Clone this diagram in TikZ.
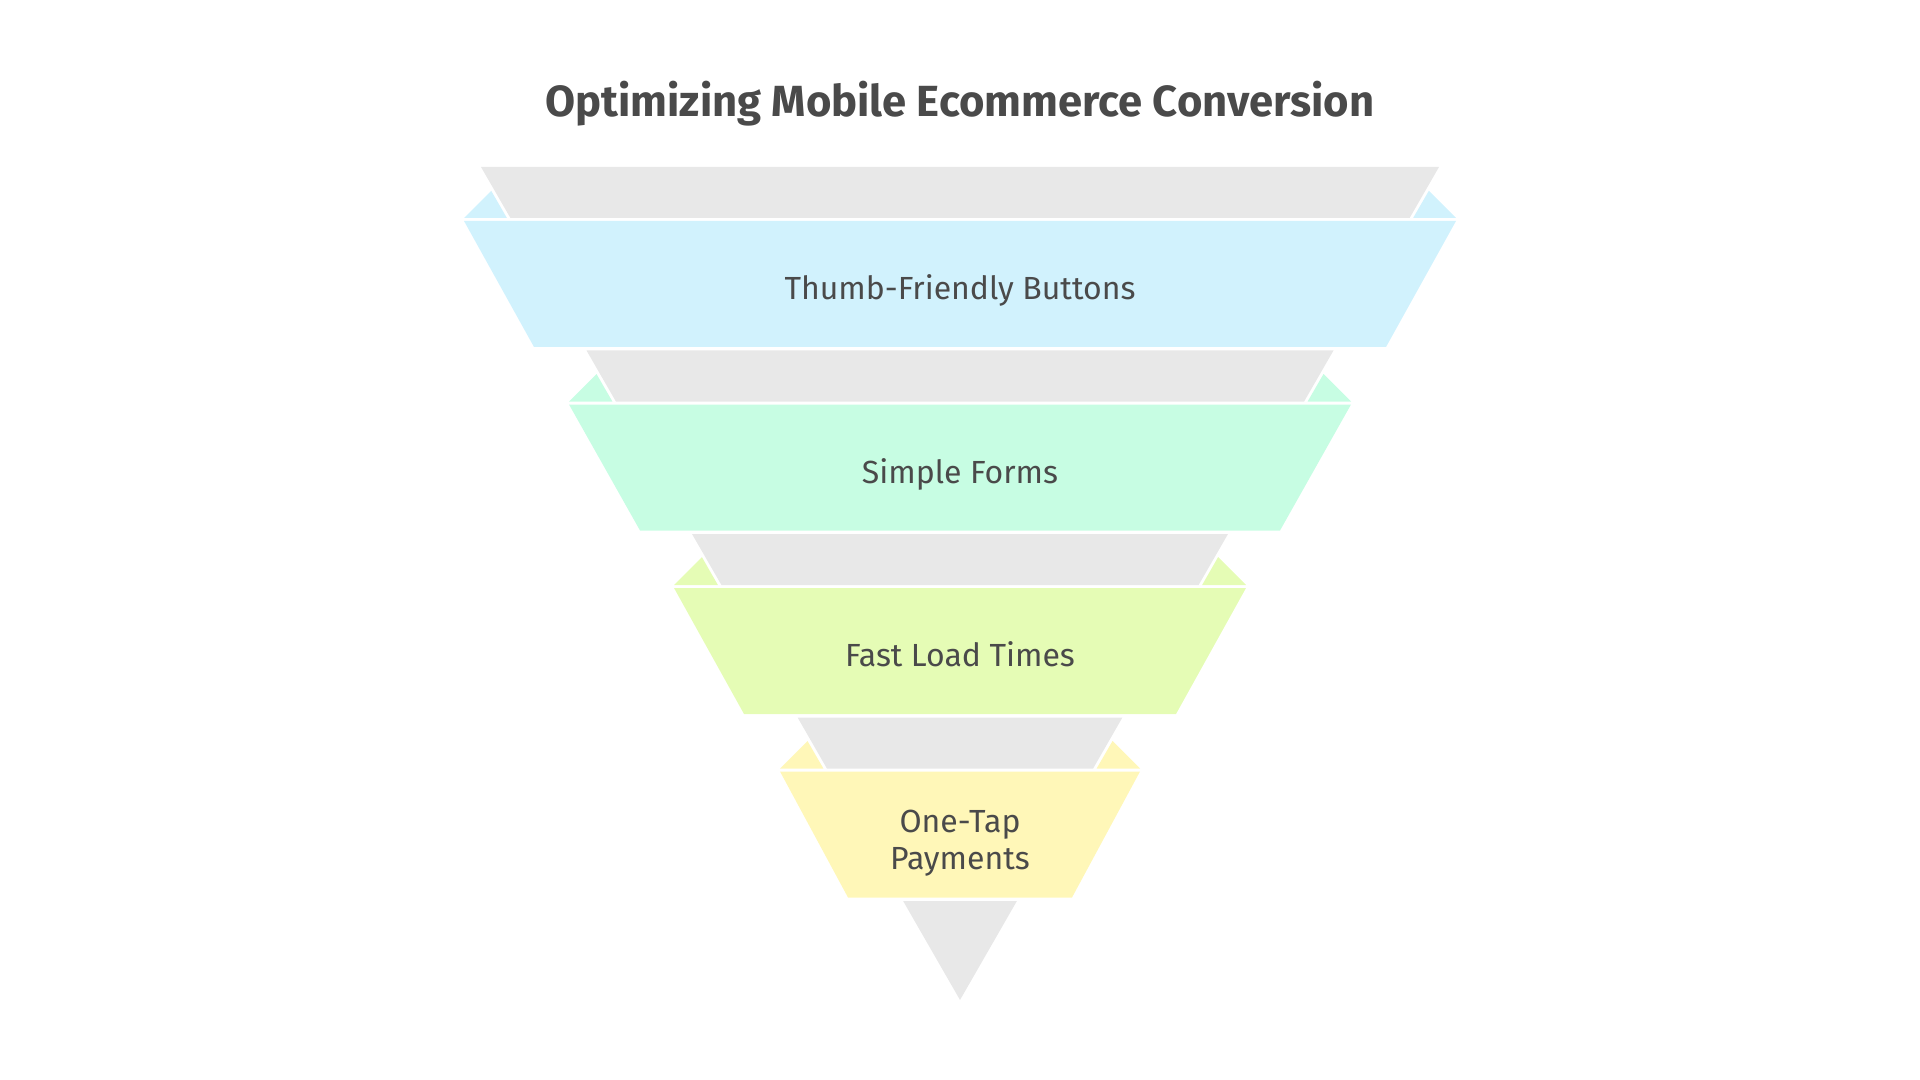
\documentclass[tikz,border=0pt]{standalone}
\usepackage{fontspec}
\setmainfont{Fira Sans}
\definecolor{greyfill}{HTML}{E8E8E8}
\definecolor{bluefill}{HTML}{D1F2FD}
\definecolor{greenfill}{HTML}{C7FDE3}
\definecolor{limefill}{HTML}{E5FCB5}
\definecolor{yellowfill}{HTML}{FFF7B8}
\definecolor{ink}{HTML}{4A4A4A}

\begin{document}
\begin{tikzpicture}[x=0.5pt,y=-0.5pt,
  funnel/.style={fill=greyfill},
  lbl/.style={text=ink,font=\fontsize{16}{18.5}\selectfont,align=center}]
\useasboundingbox (0,0) rectangle (1920,1080);
\node[text=ink,font=\bfseries\fontsize{21.8}{26}\selectfont] (title) at (960,104) {Optimizing Mobile Ecommerce Conversion};
% level 1
\fill[bluefill] (464,218)--(491.2,190.8)--(506.9,218)--cycle;
\fill[bluefill] (1456,218)--(1428.8,190.8)--(1413.1,218)--cycle;
\fill[funnel] (481,167)--(1439,167)--(1409.6,218)--(510.4,218)--cycle;
\fill[bluefill] (464,221)--(1456,221)--(1386,347)--(534,347)--cycle;
\node[lbl] (thumb) at (960,290) {Thumb-Friendly Buttons};
% level 2
\fill[greenfill] (569,401.5)--(596.5,374)--(612.4,401.5)--cycle;
\fill[greenfill] (1351,401.5)--(1323.5,374)--(1307.6,401.5)--cycle;
\fill[funnel] (586.5,350.5)--(1333.5,350.5)--(1304.1,401.5)--(615.9,401.5)--cycle;
\fill[greenfill] (569,404.5)--(1351,404.5)--(1280,530.5)--(640,530.5)--cycle;
\node[lbl] (forms) at (960,474) {Simple Forms};
% level 3
\fill[limefill] (674,585)--(701.9,557.1)--(717.9,585)--cycle;
\fill[limefill] (1246,585)--(1218.1,557.1)--(1202.1,585)--cycle;
\fill[funnel] (692,534)--(1228,534)--(1198.6,585)--(721.4,585)--cycle;
\fill[limefill] (674,588)--(1246,588)--(1176,714)--(744,714)--cycle;
\node[lbl] (load) at (960,654) {Fast Load Times};
% level 4
\fill[yellowfill] (780,768.5)--(807.5,741)--(823.4,768.5)--cycle;
\fill[yellowfill] (1140,768.5)--(1112.5,741)--(1096.6,768.5)--cycle;
\fill[funnel] (797.6,717.5)--(1122.4,717.5)--(1093.1,768.5)--(826.9,768.5)--cycle;
\fill[yellowfill] (780,771.5)--(1140,771.5)--(1072,897.5)--(848,897.5)--cycle;
\node[lbl] (pay) at (960,843) {One-Tap\\Payments};
% tip
\fill[funnel] (903.1,901)--(1016.9,901)--(960,1000)--cycle;
\end{tikzpicture}
\end{document}
